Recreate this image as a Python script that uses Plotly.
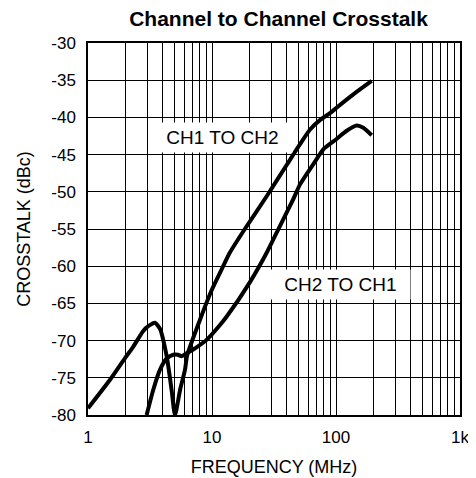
import math
import plotly.graph_objects as go

# CH1 TO CH2 curve
ch1_freq = [1.0, 1.5, 2.0, 2.32, 2.79, 3.1, 3.47, 3.8, 4.31, 4.72, 5.03, 5.53, 6.06, 6.3,
            8.0, 9.95, 12.3, 13.9, 17.9, 27.6, 40.0, 51.3, 62.0, 75.0, 90.0, 101, 138, 194]
ch1_db = [-79.1, -75.3, -72.3, -70.8, -68.7, -68.0, -67.6, -68.4, -72.1, -76.6, -80.0, -76.6,
          -73.9, -72.0, -67.2, -63.2, -60.0, -58.2, -55.3, -50.6, -46.4, -43.6, -41.6, -40.3,
          -39.4, -38.7, -36.9, -35.1]

# CH2 TO CH1 curve
ch2_freq = [2.97, 3.36, 3.81, 4.31, 4.87, 5.3, 5.69, 6.25, 7.5, 9.05, 11.6, 13.1, 20.3, 27.6,
            35.3, 45.2, 51.3, 65.5, 80.0, 101, 122, 147, 166, 194]
ch2_db = [-80.0, -76.6, -73.9, -72.4, -71.9, -71.9, -72.1, -71.7, -70.9, -69.9, -67.9, -66.8,
          -62.1, -58.2, -54.6, -51.0, -49.0, -46.3, -44.2, -42.9, -41.8, -41.1, -41.4, -42.4]

x_tickvals = [1, 10, 100, 1000]
x_ticktext = ["1", "10", "100", "1k"]
x_minor = [m * d for d in (1, 10, 100) for m in range(2, 10)]
y_tickvals = [-80, -75, -70, -65, -60, -55, -50, -45, -40, -35, -30]
y_ticktext = ["-80", "-75", "-70", "-65", "-60", "-55", "-50", "-45", "-40", "-35", "-30"]

labels = ["CH1 TO CH2", "CH2 TO CH1"]
label_x = [12.2, 108.7]
label_y = [-42.7, -62.5]

FONT = "Liberation Sans, Arial, sans-serif"

fig = go.Figure()
for fx, fy in ((ch1_freq, ch1_db), (ch2_freq, ch2_db)):
    fig.add_trace(go.Scatter(x=fx, y=fy, mode="lines",
                             line=dict(color="black", width=4, shape="spline", smoothing=0.6),
                             showlegend=False, hoverinfo="skip"))

for t, lx, ly in zip(labels, label_x, label_y):
    fig.add_annotation(x=math.log10(lx), y=ly, xref="x", yref="y", text=t, showarrow=False,
                       xanchor="center", yanchor="middle",
                       font=dict(family=FONT, size=19, color="black"),
                       bgcolor="white", width=139, height=29, borderpad=0)

fig.update_layout(
    width=468, height=470,
    margin=dict(l=80, r=16, t=35, b=63),
    paper_bgcolor="white", plot_bgcolor="white",
    font=dict(family=FONT, color="black"),
    title=dict(text="<b>Channel to Channel Crosstalk</b>", x=0.578, xanchor="center",
               y=1 - 3 / 470, yanchor="top", yref="container", pad=dict(t=0, b=0),
               font=dict(family=FONT, size=21, color="black")),
)
fig.update_xaxes(
    type="log", range=[0, 3], automargin=False,
    tickvals=x_tickvals, ticktext=x_ticktext, ticks="",
    tickfont=dict(size=17), ticklabelstandoff=6,
    showgrid=True, gridcolor="black", gridwidth=1,
    minor=dict(tickvals=x_minor, showgrid=True, gridcolor="black", gridwidth=1, ticks=""),
    showline=True, linecolor="black", linewidth=1.5, mirror=True, zeroline=False,
    title=dict(text="FREQUENCY (MHz)", font=dict(size=18), standoff=14),
)
fig.update_yaxes(
    range=[-80, -30], automargin=False,
    tickvals=y_tickvals, ticktext=y_ticktext, ticks="",
    tickfont=dict(size=17), ticklabelstandoff=7,
    showgrid=True, gridcolor="black", gridwidth=1,
    showline=True, linecolor="black", linewidth=1.5, mirror=True, zeroline=False,
    title=dict(text="CROSSTALK (dBc)", font=dict(size=18), standoff=16),
)

fig.write_html("out.html")
